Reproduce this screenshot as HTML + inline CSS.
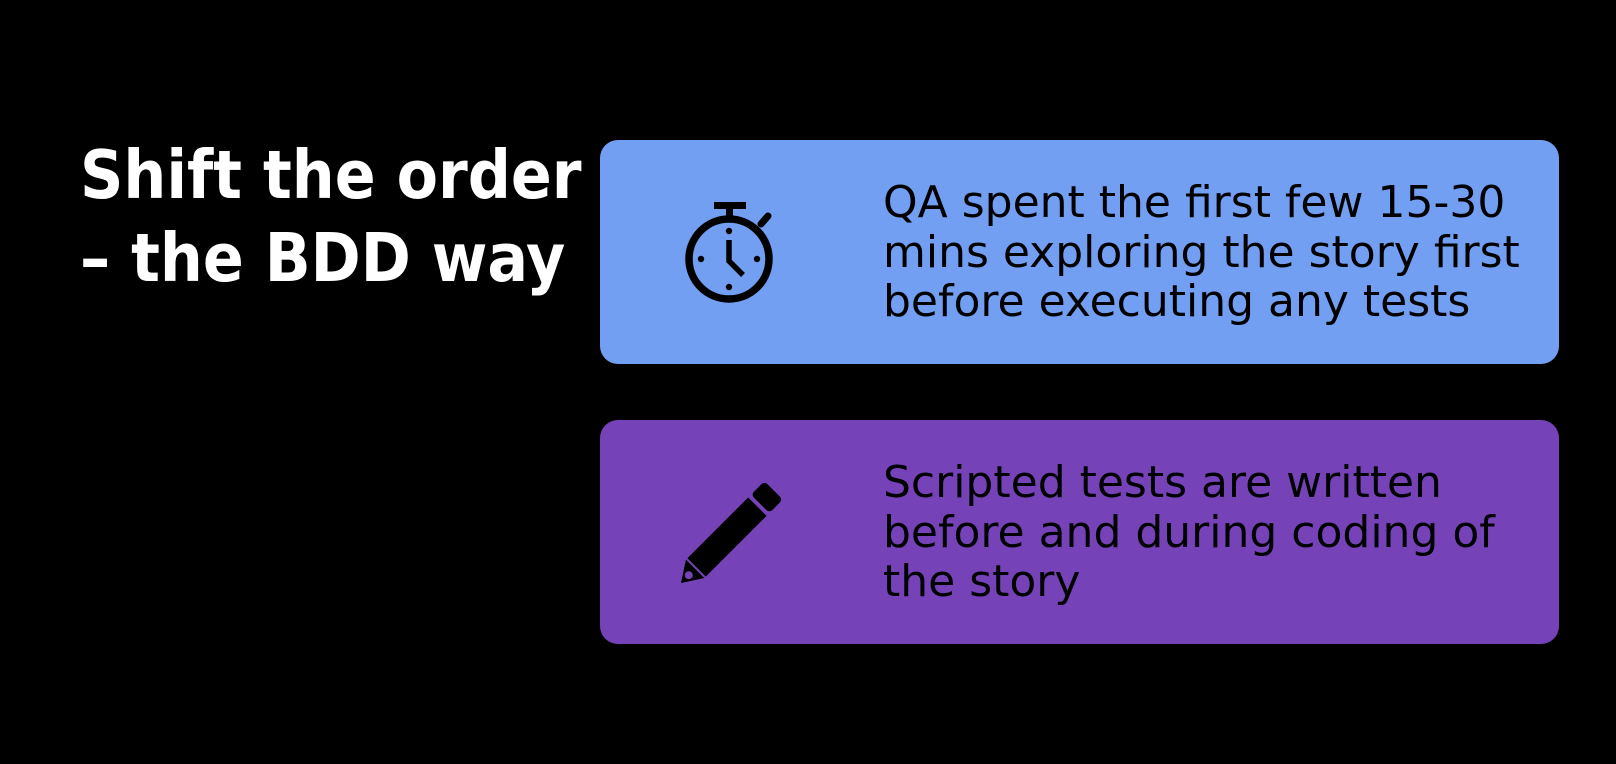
<!DOCTYPE html>
<html><head><style>
body{margin:0;width:1616px;height:764px;background:#000;position:relative;overflow:hidden;font-family:"DejaVu Sans","Liberation Sans",sans-serif;}
.title{position:absolute;left:80px;top:134px;color:#fff;font-weight:bold;font-size:67px;line-height:83px;white-space:nowrap;font-family:"DejaVu Sans Condensed","DejaVu Sans",sans-serif;font-stretch:condensed;}
.box{position:absolute;left:600px;width:959px;height:224px;border-radius:18px;}
.txt{position:absolute;left:283px;font-size:44px;line-height:49.5px;color:#000;white-space:nowrap;}
svg{position:absolute;}
</style></head><body>
<div class="title">Shift the order<br>– the BDD way</div>
<div class="box" style="top:140px;background:#739FF2">
<svg style="left:0;top:0" width="260" height="224">
<rect x="114" y="62" width="32" height="7"/>
<rect x="126" y="67" width="7" height="12"/>
<circle cx="129" cy="119" r="40" fill="none" stroke="#000" stroke-width="7.5"/>
<line x1="161" y1="84" x2="168" y2="76" stroke="#000" stroke-width="7" stroke-linecap="round"/>
<circle cx="129" cy="91" r="3.2"/><circle cx="129" cy="147" r="3.2"/><circle cx="101" cy="119" r="3.2"/><circle cx="157" cy="119" r="3.2"/>
<polyline points="129,100 129,121 143,135" fill="none" stroke="#000" stroke-width="5.5"/>
</svg>
<div class="txt" style="top:38px">QA spent the first few 15-30<br>mins exploring the story first<br>before executing any tests</div>
</div>
<div class="box" style="top:420px;background:#7542B8">
<svg style="left:0;top:0" width="260" height="224">
<g transform="translate(81,163) rotate(-45)">
<polygon points="0,0 20,-13 20,13"/>
<rect x="22" y="-13" width="86" height="26"/>
<rect x="112" y="-13" width="19" height="26" rx="4"/>
<circle cx="11" cy="0" r="4" fill="#7542B8"/>
</g>
</svg>
<div class="txt" style="top:38px">Scripted tests are written<br>before and during coding of<br>the story</div>
</div>
</body></html>
